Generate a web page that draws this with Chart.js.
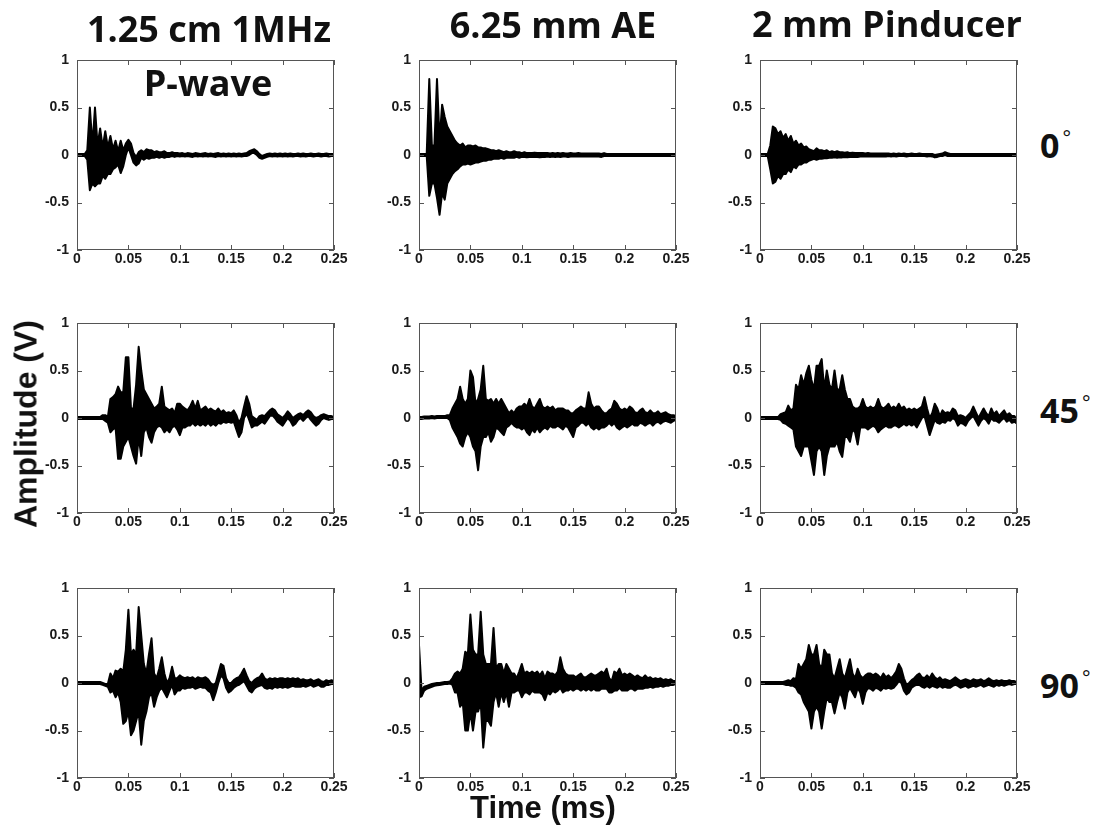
<!DOCTYPE html>
<html>
<head>
<meta charset="utf-8">
<script src="https://cdn.jsdelivr.net/npm/chart.js@4.4.1/dist/chart.umd.min.js"></script>
<style>
  body { margin: 0; background: #fff; }
  #page { position: relative; width: 1095px; height: 832px; overflow: hidden; background: #fff; }
  .panel { position: absolute; }
  .title { position: absolute; font-family: "Open Sans"; font-weight: 700; font-size: 36px; line-height: 36px; color: #111; white-space: nowrap; transform: translateX(-50%); }
  .angle { position: absolute; font-family: "Open Sans"; font-weight: 700; font-size: 34px; line-height: 34px; color: #111; white-space: nowrap; }
  .angle span { position: relative; top: -13px; font-weight: 400; font-size: 20px; margin-left: 3px; }
  .axis { position: absolute; font-family: "Liberation Sans", Arial, sans-serif; font-weight: 700; font-size: 31px; line-height: 31px; color: #111; white-space: nowrap; }
</style>
</head>
<body>
<div id="page"></div>
<script>
// Sensor names (columns) and incidence angles (rows)
const sensors = ["1.25 cm 1MHz", "6.25 mm AE", "2 mm Pinducer"];
const subTitle = "P-wave";
const angles = ["0", "45", "90"];
const xTickLabels = ["0", "0.05", "0.1", "0.15", "0.2", "0.25"];
const yTickLabels = ["-1", "-0.5", "0", "0.5", "1"];

// Waveforms as max/min envelope (V) in bins of 0.0025 ms, from 0 to 0.25 ms
const dt = 0.0025;

// 1.25 cm 1MHz P-wave, 0 deg
const pwave0Hi = [
  0.01, 0.01, 0.01, 0.01, 0.05, 0.5, 0.1, 0.5, 0.1, 0.28, 0.08, 0.25, 0.08, 0.2, 0.06, 0.15, 0.04, 0.15, 0.05, 0.12,
  0.16, 0.12, 0.02, -0.02, 0.03, 0.05, 0.03, 0.06, 0.05, 0.05, 0.03, 0.04, 0.03, 0.03, 0.04, 0.02, 0.02, 0.03, 0.02, 0.02,
  0.015, 0.02, 0.01, 0.02, 0.015, 0.01, 0.02, 0.015, 0.01, 0.015, 0.02, 0.01, 0.015, 0.01, 0.015, 0.02, 0.01, 0.015, 0.01, 0.015,
  0.01, 0.015, 0.01, 0.015, 0.01, 0.015, 0.02, 0.04, 0.05, 0.06, 0.04, 0.01, -0.01, 0, 0.01, 0.015, 0.01, 0.015, 0.01, 0.015,
  0.01, 0.015, 0.01, 0.015, 0.01, 0.01, 0.015, 0.01, 0.015, 0.01, 0.01, 0.015, 0.01, 0.01, 0.015, 0.01, 0.01, 0.015, 0.01, 0.01,
  0.01
];
const pwave0Lo = [
  -0.01, -0.01, -0.01, -0.01, -0.05, -0.37, -0.3, -0.33, -0.3, -0.3, -0.22, -0.25, -0.2, -0.2, -0.15, -0.13, -0.1, -0.19, -0.12, 0,
  0.08, 0, -0.08, -0.11, -0.09, -0.03, -0.05, -0.03, -0.04, -0.03, -0.03, -0.02, -0.03, -0.02, -0.03, -0.02, -0.02, -0.01, -0.02, -0.01,
  -0.015, -0.01, -0.015, -0.01, -0.015, -0.02, -0.01, -0.015, -0.01, -0.015, -0.01, -0.015, -0.01, -0.015, -0.02, -0.01, -0.015, -0.01, -0.015, -0.01,
  -0.015, -0.01, -0.015, -0.01, -0.015, -0.01, -0.01, 0, 0.02, 0.02, 0, -0.03, -0.04, -0.03, -0.02, -0.01, -0.015, -0.01, -0.015, -0.01,
  -0.015, -0.01, -0.015, -0.01, -0.015, -0.01, -0.01, -0.015, -0.01, -0.015, -0.01, -0.01, -0.015, -0.01, -0.01, -0.015, -0.01, -0.01, -0.015, -0.01,
  -0.01
];

// 6.25 mm AE, 0 deg
const ae0Hi = [
  0.01, 0.01, 0.01, 0.01, 0.8, 0.1, 0.1, 0.8, 0.15, 0.53, 0.4, 0.3, 0.25, 0.2, 0.15, 0.12, 0.1, 0.12, 0.08, 0.1,
  0.1, 0.09, 0.1, 0.08, 0.08, 0.07, 0.07, 0.06, 0.05, 0.05, 0.04, 0.05, 0.04, 0.03, 0.04, 0.03, 0.03, 0.04, 0.03, 0.03,
  0.02, 0.03, 0.02, 0.02, 0.02, 0.025, 0.02, 0.02, 0.02, 0.02, 0.02, 0.015, 0.02, 0.015, 0.02, 0.015, 0.02, 0.015, 0.015, 0.02,
  0.015, 0.015, 0.02, 0.015, 0.015, 0.015, 0.015, 0.015, 0.015, 0.015, 0.015, 0.01, 0.02, 0.01, 0.01, 0.01, 0.01, 0.01, 0.01, 0.01,
  0.01, 0.01, 0.01, 0.01, 0.01, 0.01, 0.01, 0.01, 0.01, 0.01, 0.01, 0.01, 0.01, 0.01, 0.01, 0.01, 0.01, 0.01, 0.01, 0.01,
  0.01
];
const ae0Lo = [
  -0.01, -0.01, -0.01, -0.01, -0.43, -0.3, -0.3, -0.45, -0.63, -0.4, -0.47, -0.3, -0.25, -0.2, -0.17, -0.15, -0.12, -0.1, -0.1, -0.09,
  -0.1, -0.09, -0.08, -0.08, -0.07, -0.06, -0.06, -0.05, -0.05, -0.04, -0.04, -0.04, -0.03, -0.04, -0.03, -0.03, -0.03, -0.03, -0.02, -0.03,
  -0.02, -0.02, -0.025, -0.02, -0.02, -0.02, -0.02, -0.025, -0.02, -0.02, -0.015, -0.02, -0.015, -0.02, -0.015, -0.02, -0.015, -0.015, -0.02, -0.015,
  -0.015, -0.015, -0.015, -0.015, -0.015, -0.015, -0.015, -0.015, -0.015, -0.015, -0.015, -0.02, -0.01, -0.01, -0.01, -0.01, -0.01, -0.01, -0.01, -0.01,
  -0.01, -0.01, -0.01, -0.01, -0.01, -0.01, -0.01, -0.01, -0.01, -0.01, -0.01, -0.01, -0.01, -0.01, -0.01, -0.01, -0.01, -0.01, -0.01, -0.01,
  -0.01
];

// 2 mm Pinducer, 0 deg
const pin0Hi = [
  0.01, 0.01, 0.01, 0.01, 0.1, 0.3, 0.28, 0.22, 0.25, 0.18, 0.22, 0.15, 0.2, 0.12, 0.15, 0.1, 0.12, 0.08, 0.09, 0.06,
  0.05, 0.04, 0.07, 0.05, 0.05, 0.04, 0.05, 0.03, 0.04, 0.03, 0.04, 0.03, 0.03, 0.025, 0.03, 0.02, 0.025, 0.02, 0.02, 0.02,
  0.02, 0.015, 0.02, 0.015, 0.015, 0.015, 0.015, 0.015, 0.015, 0.015, 0.015, 0.01, 0.015, 0.01, 0.015, 0.01, 0.015, 0.01, 0.01, 0.015,
  0.01, 0.01, 0.015, 0.01, 0.01, 0.01, 0.01, 0.01, 0, 0.005, 0.01, 0.015, 0.03, 0.02, 0.01, 0.01, 0.01, 0.01, 0.01, 0.01,
  0.01, 0.01, 0.01, 0.01, 0.01, 0.01, 0.01, 0.01, 0.01, 0.01, 0.01, 0.01, 0.01, 0.01, 0.01, 0.01, 0.01, 0.01, 0.01, 0.01,
  0.01
];
const pin0Lo = [
  -0.01, -0.01, -0.01, -0.01, -0.15, -0.3, -0.28, -0.22, -0.25, -0.2, -0.2, -0.15, -0.18, -0.12, -0.14, -0.1, -0.1, -0.08, -0.08, -0.06,
  -0.05, -0.04, -0.05, -0.04, -0.04, -0.035, -0.035, -0.03, -0.03, -0.025, -0.03, -0.025, -0.025, -0.02, -0.025, -0.02, -0.02, -0.02, -0.02, -0.015,
  -0.015, -0.015, -0.015, -0.015, -0.015, -0.015, -0.015, -0.015, -0.015, -0.015, -0.01, -0.015, -0.01, -0.015, -0.01, -0.01, -0.01, -0.015, -0.01, -0.01,
  -0.01, -0.01, -0.01, -0.01, -0.01, -0.015, -0.01, -0.015, -0.025, -0.02, -0.01, -0.01, 0, -0.01, -0.01, -0.01, -0.01, -0.01, -0.01, -0.01,
  -0.01, -0.01, -0.01, -0.01, -0.01, -0.01, -0.01, -0.01, -0.01, -0.01, -0.01, -0.01, -0.01, -0.01, -0.01, -0.01, -0.01, -0.01, -0.01, -0.01,
  -0.01
];

// 1.25 cm 1MHz P-wave, 45 deg
const pwave45Hi = [
  0.01, 0.01, 0.01, 0.01, 0.01, 0.01, 0.01, 0.01, 0.01, 0.01, 0.03, 0.03, 0.01, 0.2, 0.22, 0.25, 0.33, 0.27, 0.27, 0.64,
  0.64, 0.1, 0.1, 0.35, 0.75, 0.5, 0.3, 0.25, 0.2, 0.15, 0.1, 0.12, 0.15, 0.33, 0.12, 0.1, 0.08, 0.1, 0.05, 0.15,
  0.15, 0.12, 0.1, 0.08, 0.12, 0.18, 0.1, 0.18, 0.08, 0.1, 0.12, 0.08, 0.1, 0.08, 0.07, 0.1, 0.06, 0.08, 0.05, 0.06,
  0.05, 0.08, 0.03, -0.05, 0, 0.12, 0.23, 0.15, 0.02, 0, -0.02, 0.02, 0.03, 0.02, 0.05, 0.08, 0.1, 0.08, 0.04, 0.02,
  0, 0.03, 0.07, 0.04, 0, 0.02, 0.04, 0.05, 0.03, 0.06, 0.08, 0.06, 0.02, 0, 0.01, 0.03, 0.04, 0.03, 0.02, 0.02,
  0.01
];
const pwave45Lo = [
  -0.01, -0.01, -0.01, -0.01, -0.01, -0.01, -0.01, -0.01, -0.01, -0.01, -0.01, -0.03, -0.05, -0.15, -0.12, -0.1, -0.43, -0.43, -0.3, -0.25,
  -0.2, -0.3, -0.4, -0.48, -0.2, -0.4, -0.15, -0.1, -0.2, -0.26, -0.15, -0.1, -0.08, -0.1, -0.15, -0.12, -0.15, -0.1, -0.08, -0.12,
  -0.18, -0.1, -0.1, -0.08, -0.08, -0.05, -0.08, -0.06, -0.08, -0.06, -0.08, -0.05, -0.08, -0.06, -0.08, -0.05, -0.06, -0.04, -0.05, -0.04,
  -0.05, -0.04, -0.12, -0.2, -0.15, 0, 0.05, -0.02, -0.1, -0.08, -0.08, -0.06, -0.04, -0.06, -0.02, 0.02, 0.03, 0, -0.04, -0.06,
  -0.08, -0.04, 0, -0.03, -0.08, -0.06, -0.02, 0, -0.03, 0, 0.02, -0.02, -0.05, -0.08, -0.06, -0.02, 0, -0.01, -0.02, -0.01,
  -0.01
];

// 6.25 mm AE, 45 deg
const ae45Hi = [
  0.01, 0.01, 0.015, 0.015, 0.015, 0.02, 0.015, 0.02, 0.02, 0.02, 0.02, 0.03, 0.03, 0.1, 0.15, 0.2, 0.33, 0.2, 0.15, 0.2,
  0.5, 0.43, 0.15, 0.2, 0.3, 0.55, 0.2, 0.18, 0.2, 0.15, 0.2, 0.15, 0.2, 0.15, 0.1, 0.05, 0.08, 0.05, 0.1, 0.12,
  0.12, 0.15, 0.12, 0.2, 0.12, 0.1, 0.15, 0.2, 0.12, 0.1, 0.12, 0.1, 0.12, 0.08, 0.1, 0.1, 0.1, 0.08, 0.08, 0.05,
  0.05, 0.08, 0.1, 0.12, 0.1, 0.1, 0.27, 0.15, 0.1, 0.12, 0.12, 0.08, 0.05, 0.05, 0.08, 0.1, 0.18, 0.15, 0.1, 0.08,
  0.1, 0.08, 0.12, 0.1, 0.06, 0.05, 0.08, 0.1, 0.06, 0.05, 0.08, 0.05, 0.05, 0.07, 0.04, 0.05, 0.06, 0.04, 0.03, 0.03,
  0.02
];
const ae45Lo = [
  -0.01, -0.01, -0.005, -0.005, -0.005, 0, -0.005, 0, 0, 0, 0, 0, -0.02, -0.1, -0.15, -0.2, -0.27, -0.3, -0.2, -0.15,
  -0.2, -0.3, -0.35, -0.55, -0.3, -0.2, -0.2, -0.15, -0.25, -0.2, -0.1, -0.12, -0.15, -0.18, -0.1, -0.08, -0.05, -0.08, -0.1, -0.1,
  -0.12, -0.1, -0.15, -0.18, -0.12, -0.15, -0.1, -0.15, -0.12, -0.1, -0.12, -0.08, -0.1, -0.1, -0.08, -0.1, -0.12, -0.08, -0.1, -0.15,
  -0.2, -0.1, -0.08, -0.05, -0.05, -0.08, -0.05, -0.1, -0.12, -0.1, -0.12, -0.1, -0.1, -0.08, -0.05, -0.08, -0.05, -0.1, -0.12, -0.1,
  -0.08, -0.1, -0.08, -0.06, -0.08, -0.08, -0.05, -0.06, -0.08, -0.06, -0.05, -0.08, -0.05, -0.04, -0.06, -0.04, -0.03, -0.04, -0.05, -0.03,
  -0.02
];

// 2 mm Pinducer, 45 deg
const pin45Hi = [
  0.01, 0.01, 0.01, 0.01, 0.01, 0.01, 0.01, 0.01, 0.04, 0.05, 0.06, 0.13, 0.08, 0.1, 0.35, 0.3, 0.45, 0.35, 0.47, 0.55,
  0.4, 0.3, 0.55, 0.55, 0.62, 0.3, 0.5, 0.35, 0.3, 0.5, 0.3, 0.3, 0.45, 0.3, 0.2, 0.2, 0.12, 0.1, 0.1, 0.12,
  0.2, 0.12, 0.1, 0.12, 0.1, 0.12, 0.2, 0.12, 0.1, 0.12, 0.15, 0.1, 0.12, 0.1, 0.15, 0.1, 0.12, 0.08, 0.1, 0.08,
  0.1, 0.08, 0.1, 0.12, 0.22, 0.1, 0, 0.05, 0.15, 0.1, 0.02, 0.08, 0.05, 0.06, 0.05, 0.1, 0.08, 0.02, 0.03, 0.02,
  0, 0.03, 0.06, 0.12, 0.06, 0, 0.05, 0.1, 0.05, 0.02, 0.1, 0.04, 0.07, 0.02, 0.05, 0.08, 0.03, 0.05, 0.02, 0.02,
  -0.02
];
const pin45Lo = [
  -0.01, -0.01, -0.01, -0.01, -0.01, -0.01, -0.01, -0.01, -0.02, -0.05, -0.06, -0.08, -0.1, -0.12, -0.3, -0.35, -0.4, -0.3, -0.3, -0.3,
  -0.45, -0.6, -0.35, -0.3, -0.35, -0.6, -0.4, -0.3, -0.3, -0.3, -0.25, -0.35, -0.41, -0.2, -0.2, -0.25, -0.12, -0.15, -0.28, -0.1,
  -0.1, -0.1, -0.12, -0.1, -0.08, -0.1, -0.15, -0.12, -0.1, -0.08, -0.1, -0.1, -0.08, -0.08, -0.1, -0.08, -0.06, -0.08, -0.06, -0.08,
  -0.06, -0.1, -0.05, 0, 0.02, -0.08, -0.18, -0.1, -0.02, -0.05, -0.06, -0.04, -0.05, -0.02, -0.03, 0, -0.02, -0.08, -0.05, -0.06,
  -0.08, -0.03, 0, 0.02, -0.03, -0.08, -0.03, 0, -0.02, -0.06, 0, -0.03, -0.03, -0.05, -0.02, 0, -0.04, -0.02, -0.05, -0.04,
  -0.06
];

// 1.25 cm 1MHz P-wave, 90 deg
const pwave90Hi = [
  0.01, 0.01, 0.01, 0.01, 0.01, 0.01, 0.01, 0.01, 0.01, 0.01, 0, -0.01, -0.01, 0.1, 0.05, 0.13, 0.12, 0.15, 0.12, 0.35,
  0.77, 0.3, 0.35, 0.3, 0.8, 0.5, 0.2, 0.1, 0.3, 0.47, 0.1, 0.05, 0.15, 0.27, 0.1, 0, 0.05, 0.17, 0.05, 0.05,
  0.08, 0.06, 0.05, 0.06, 0.05, 0.06, 0.04, 0.06, 0.05, 0.05, 0.06, 0.04, 0, -0.02, 0, 0.1, 0.2, 0.18, 0.05, 0,
  0, 0.03, 0.05, 0.06, 0.1, 0.15, 0.08, 0.02, 0, 0.03, 0.05, 0.06, 0.1, 0.05, 0.03, 0.05, 0.04, 0.05, 0.04, 0.05,
  0.05, 0.04, 0.05, 0.04, 0.05, 0.04, 0.05, 0.03, 0.04, 0.03, 0.03, 0.04, 0.02, 0.03, 0.04, 0.02, 0.01, 0.03, 0.02, 0.03,
  0.02
];
const pwave90Lo = [
  -0.01, -0.01, -0.01, -0.01, -0.01, -0.01, -0.01, -0.01, -0.01, -0.01, -0.02, -0.03, -0.04, -0.1, -0.08, -0.15, -0.1, -0.2, -0.43, -0.4,
  -0.3, -0.55, -0.5, -0.4, -0.3, -0.65, -0.4, -0.3, -0.15, -0.1, -0.25, -0.15, -0.08, -0.05, -0.1, -0.15, -0.08, -0.02, -0.12, -0.08,
  -0.08, -0.05, -0.06, -0.05, -0.05, -0.04, -0.06, -0.05, -0.04, -0.05, -0.05, -0.08, -0.1, -0.18, -0.1, 0, 0.08, 0.05, -0.05, -0.1,
  -0.08, -0.05, -0.03, -0.02, 0, 0.02, -0.03, -0.08, -0.1, -0.06, -0.04, -0.03, -0.02, -0.05, -0.06, -0.05, -0.06, -0.04, -0.05, -0.04,
  -0.05, -0.04, -0.05, -0.04, -0.03, -0.04, -0.04, -0.04, -0.03, -0.04, -0.03, -0.02, -0.04, -0.03, -0.02, -0.04, -0.04, -0.02, -0.02, -0.01,
  -0.01
];

// 6.25 mm AE, 90 deg
const ae90Hi = [
  0.4, -0.08, -0.04, -0.03, -0.02, -0.01, -0.005, 0, 0, 0.005, 0.01, 0.01, 0.015, 0.05, 0.1, 0.12, 0.1, 0.15, 0.33, 0.3,
  0.72, 0.35, 0.3, 0.3, 0.75, 0.3, 0.2, 0.2, 0.2, 0.58, 0.15, 0.2, 0.2, 0.1, 0.2, 0.15, 0.1, 0.1, 0.05, 0.12,
  0.2, 0.1, 0.12, 0.1, 0.12, 0.1, 0.12, 0.08, 0.12, 0.05, 0.12, 0.1, 0.1, 0.08, 0.12, 0.27, 0.15, 0.1, 0.08, 0.08,
  0.08, 0.06, 0.08, 0.1, 0.06, 0.06, 0.08, 0.1, 0.08, 0.08, 0.1, 0.12, 0.1, 0.15, 0.05, 0.02, 0.12, 0.1, 0.15, 0.08,
  0.1, 0.08, 0.1, 0.08, 0.06, 0.08, 0.06, 0.05, 0.08, 0.05, 0.06, 0.04, 0.05, 0.04, 0.05, 0.03, 0.04, 0.03, 0.04, 0.02,
  0.02
];
const ae90Lo = [
  -0.15, -0.14, -0.08, -0.06, -0.05, -0.04, -0.03, -0.025, -0.02, -0.015, -0.01, -0.01, -0.005, -0.02, -0.1, -0.1, -0.25, -0.2, -0.5, -0.5,
  -0.3, -0.5, -0.3, -0.3, -0.2, -0.68, -0.4, -0.4, -0.45, -0.2, -0.1, -0.25, -0.1, -0.2, -0.1, -0.25, -0.1, -0.1, -0.08, -0.08,
  -0.15, -0.1, -0.1, -0.12, -0.08, -0.1, -0.1, -0.1, -0.12, -0.18, -0.1, -0.12, -0.08, -0.1, -0.08, -0.05, -0.1, -0.08, -0.08, -0.06,
  -0.08, -0.06, -0.06, -0.08, -0.06, -0.08, -0.06, -0.08, -0.06, -0.08, -0.08, -0.06, -0.06, -0.06, -0.1, -0.1, -0.08, -0.08, -0.05, -0.08,
  -0.08, -0.08, -0.06, -0.06, -0.08, -0.06, -0.06, -0.06, -0.05, -0.05, -0.04, -0.05, -0.04, -0.04, -0.03, -0.04, -0.03, -0.03, -0.02, -0.02,
  -0.01
];

// 2 mm Pinducer, 90 deg
const pin90Hi = [
  0.01, 0.01, 0.01, 0.01, 0.01, 0.01, 0.01, 0.01, 0.01, 0.01, 0.02, 0.03, 0.02, 0.05, 0.04, 0.2, 0.15, 0.2, 0.25, 0.4,
  0.3, 0.3, 0.4, 0.2, 0.15, 0.35, 0.3, 0.3, 0.1, 0.05, 0.15, 0.25, 0.1, 0.05, 0.15, 0.25, 0.1, 0.05, 0.15, 0.08,
  0.05, 0.08, 0.1, 0.1, 0.08, 0.1, 0.08, 0.05, 0.1, 0.06, 0.08, 0.05, 0.08, 0.12, 0.2, 0.15, 0.05, -0.02, 0, 0.03,
  0.05, 0.08, 0.1, 0.06, 0.05, 0.08, 0.05, 0.1, 0.06, 0.04, 0.06, 0.03, 0.04, 0.03, 0.02, 0.04, 0.06, 0.04, 0.02, 0.03,
  0.04, 0.03, 0.02, 0.04, 0.03, 0.03, 0.04, 0.02, 0.03, 0.05, 0.03, 0.02, 0.03, 0.02, 0.03, 0.02, 0.02, 0.03, 0.02, 0.02,
  0.01
];
const pin90Lo = [
  -0.01, -0.01, -0.01, -0.01, -0.01, -0.01, -0.01, -0.01, -0.01, -0.01, -0.02, -0.02, -0.03, -0.03, -0.05, -0.1, -0.12, -0.2, -0.25, -0.3,
  -0.48, -0.3, -0.25, -0.3, -0.48, -0.3, -0.15, -0.2, -0.2, -0.32, -0.2, -0.1, -0.15, -0.27, -0.1, -0.05, -0.1, -0.15, -0.05, -0.1,
  -0.22, -0.1, -0.05, -0.06, -0.08, -0.05, -0.06, -0.08, -0.05, -0.06, -0.05, -0.06, -0.05, -0.02, 0.02, 0, -0.08, -0.12, -0.1, -0.05,
  -0.03, -0.02, -0.02, -0.04, -0.05, -0.03, -0.05, -0.03, -0.04, -0.05, -0.03, -0.05, -0.04, -0.05, -0.05, -0.03, -0.02, -0.03, -0.05, -0.04,
  -0.03, -0.05, -0.04, -0.03, -0.04, -0.03, -0.02, -0.04, -0.03, -0.02, -0.03, -0.04, -0.02, -0.03, -0.02, -0.03, -0.02, -0.01, -0.02, -0.01,
  -0.01
];

const grid = [
  [[pwave0Hi, pwave0Lo], [ae0Hi, ae0Lo], [pin0Hi, pin0Lo]],
  [[pwave45Hi, pwave45Lo], [ae45Hi, ae45Lo], [pin45Hi, pin45Lo]],
  [[pwave90Hi, pwave90Lo], [ae90Hi, ae90Lo], [pin90Hi, pin90Lo]]
];

// Plot frame placement on the page
const plotLeft = [77, 419, 760];
const plotTop = [60, 323, 588];
const plotW = 257, plotH = 190;
const padL = 50, padT = 18, padR = 22, padB = 24;

const page = document.getElementById("page");

// MATLAB style box with inward tick marks on all four sides
const matlabFrame = {
  id: "matlabFrame",
  afterDatasetsDraw(chart) {
    const { ctx, chartArea: a, scales: { x, y } } = chart;
    ctx.save();
    ctx.strokeStyle = "#555";
    ctx.lineWidth = 1;
    ctx.beginPath();
    x.ticks.forEach(t => {
      const px = Math.round(x.getPixelForValue(t.value)) + 0.5;
      ctx.moveTo(px, a.bottom); ctx.lineTo(px, a.bottom - 5);
      ctx.moveTo(px, a.top); ctx.lineTo(px, a.top + 5);
    });
    y.ticks.forEach(t => {
      const py = Math.round(y.getPixelForValue(t.value)) + 0.5;
      ctx.moveTo(a.left, py); ctx.lineTo(a.left + 5, py);
      ctx.moveTo(a.right, py); ctx.lineTo(a.right - 5, py);
    });
    ctx.stroke();
    ctx.strokeRect(Math.round(a.left) + 0.5, Math.round(a.top) + 0.5, Math.round(a.width) - 1, Math.round(a.height) - 1);
    ctx.restore();
  }
};

const tickFont = { family: "Liberation Sans", weight: "bold", size: 14 };

function makePanel(env, row, col) {
  const canvas = document.createElement("canvas");
  canvas.className = "panel";
  canvas.width = plotW + padL + padR;
  canvas.height = plotH + padT + padB;
  canvas.style.left = (plotLeft[col] - padL) + "px";
  canvas.style.top = (plotTop[row] - padT) + "px";
  page.appendChild(canvas);

  const [hi, lo] = env;
  const toPoints = arr => arr.map((v, i) => ({ x: i * dt, y: v }));
  const line = {
    borderColor: "#000",
    borderWidth: 2,
    borderJoinStyle: "round",
    pointRadius: 0,
    tension: 0
  };

  new Chart(canvas.getContext("2d"), {
    type: "line",
    data: {
      datasets: [
        { ...line, data: toPoints(hi), fill: "+1", backgroundColor: "#000" },
        { ...line, data: toPoints(lo), fill: false }
      ]
    },
    options: {
      responsive: false,
      animation: false,
      events: [],
      layout: { padding: { left: 0, top: padT, right: padR, bottom: 0 } },
      plugins: { legend: { display: false }, tooltip: { enabled: false } },
      scales: {
        x: {
          type: "linear", min: 0, max: 0.25,
          afterFit: s => { s.height = padB; },
          grid: { display: false, drawTicks: false },
          border: { display: false },
          ticks: {
            stepSize: 0.05, padding: 1, autoSkip: false, maxRotation: 0,
            color: "#1a1a1a", font: tickFont,
            callback: (v, i) => xTickLabels[i]
          }
        },
        y: {
          type: "linear", min: -1, max: 1,
          afterFit: s => { s.width = padL; },
          grid: { display: false, drawTicks: false },
          border: { display: false },
          ticks: {
            stepSize: 0.5, padding: 8, autoSkip: false,
            color: "#1a1a1a", font: tickFont,
            callback: (v, i) => yTickLabels[i]
          }
        }
      }
    },
    plugins: [matlabFrame]
  });
}

grid.forEach((rowData, r) => rowData.forEach((env, c) => makePanel(env, r, c)));

// Text labels
function addText(cls, text, left, top) {
  const d = document.createElement("div");
  d.className = cls;
  d.textContent = text;
  d.style.left = left + "px";
  d.style.top = top + "px";
  page.appendChild(d);
  return d;
}

const titleCenters = [209, 553, 887];
const titleTops = [11, 7, 6];
sensors.forEach((s, i) => addText("title", s, titleCenters[i], titleTops[i]));
addText("title", subTitle, 208, 65);

const angleTops = [128, 393, 668];
angles.forEach((a, i) => {
  const d = addText("angle", a, 1040, angleTops[i]);
  const deg = document.createElement("span");
  deg.textContent = "°";
  d.appendChild(deg);
});

const yLab = addText("axis", "Amplitude (V)", 26, 424);
yLab.style.fontSize = "32px";
yLab.style.transform = "translate(-50%, -50%) rotate(-90deg)";
const xLab = addText("axis", "Time (ms)", 543, 792);
xLab.style.transform = "translateX(-50%)";
</script>
</body>
</html>
